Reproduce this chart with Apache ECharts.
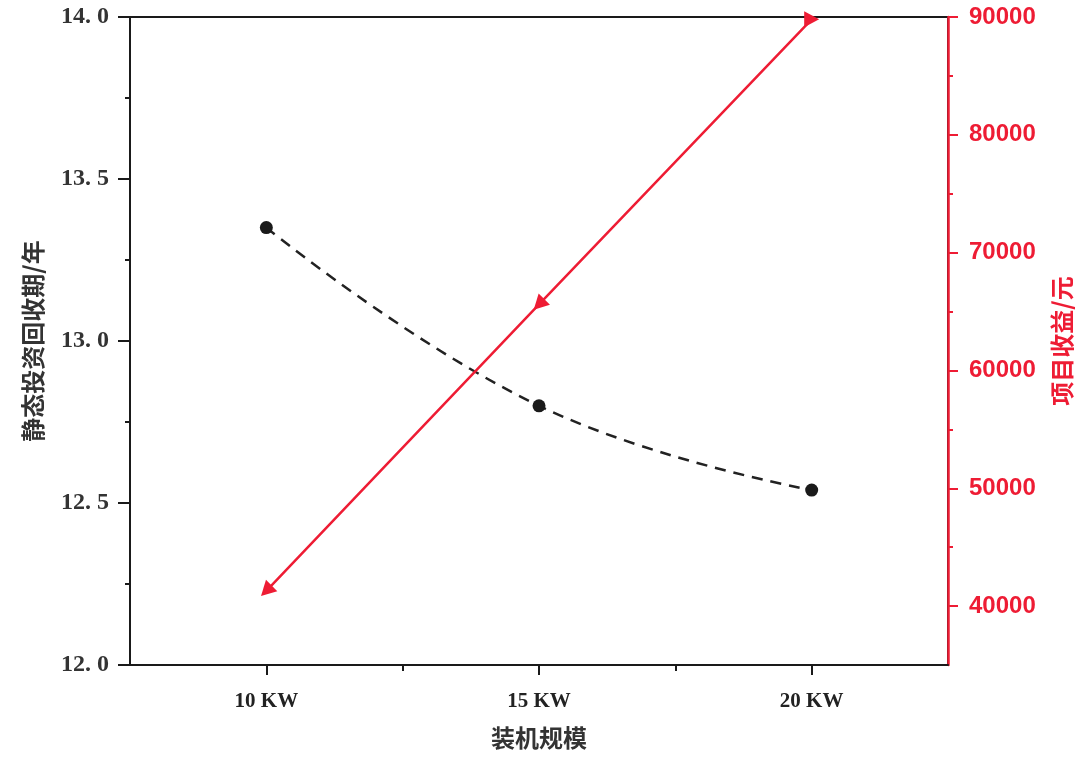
<!DOCTYPE html>
<html>
<head>
<meta charset="utf-8">
<script src="https://cdn.jsdelivr.net/npm/echarts@6/dist/echarts.min.js"></script>
<style>html,body{margin:0;padding:0;background:#fff;}#c{width:1080px;height:761px;}</style>
</head>
<body>
<div id="c"></div>
<script>
const capacities = [10, 15, 20];
const capacityLabels = ['10 KW', '15 KW', '20 KW'];
const paybackYears = [13.35, 12.80, 12.54];
const projectIncome = [41300, 65600, 89800];
const incomeMarkerRotate = [135, 135, -90];
const leftTicks = [12.0, 12.5, 13.0, 13.5, 14.0];
const rightMajorTicks = [40000, 50000, 60000, 70000, 80000, 90000];
const rightMinorTicks = [45000, 55000, 65000, 75000, 85000];
const xMinorTicks = [12.5, 17.5];

const RED = '#ee1c34';
const BLACK = '#1a1a1a';
const SERIF = '"Liberation Serif", "DejaVu Serif", "Noto Sans CJK SC", serif';
const CJK = '"Noto Sans CJK SC", sans-serif';

const chart = echarts.init(document.getElementById('c'));
chart.setOption({
  animation: false,
  backgroundColor: '#fff',
  grid: { left: 130, right: 132, top: 17, bottom: 96, show: true, borderColor: BLACK, borderWidth: 2, backgroundColor: 'transparent', outerBoundsMode: 'none', containLabel: false },
  xAxis: [
    {
      type: 'value', min: 7.5, max: 22.5, position: 'bottom',
      name: '装机规模', nameLocation: 'middle', nameGap: 61,
      nameTextStyle: { fontFamily: CJK, fontWeight: 'bold', fontSize: 24, color: '#333' },
      axisLine: { show: true, lineStyle: { color: BLACK, width: 2 } },
      axisTick: { show: true, inside: false, length: 10, lineStyle: { color: BLACK, width: 2 }, customValues: capacities },
      axisLabel: {
        show: true, margin: 26, customValues: capacities,
        formatter: v => capacityLabels[capacities.indexOf(v)] || '',
        fontFamily: SERIF, fontWeight: 'bold', fontSize: 21, color: '#222'
      },
      splitLine: { show: false }
    },
    {
      type: 'value', min: 7.5, max: 22.5, position: 'bottom',
      axisLine: { show: false },
      axisTick: { show: true, length: 6, lineStyle: { color: BLACK, width: 2 }, customValues: xMinorTicks },
      axisLabel: { show: false },
      splitLine: { show: false }
    }
  ],
  yAxis: [
    {
      type: 'value', min: 12, max: 14, interval: 0.5, position: 'left',
      name: '静态投资回收期/年', nameLocation: 'middle', nameGap: 85, nameRotate: 90,
      nameTextStyle: { fontFamily: CJK, fontWeight: 'bold', fontSize: 24, color: '#333' },
      axisLine: { show: true, lineStyle: { color: BLACK, width: 2 } },
      axisTick: { show: true, length: 12, lineStyle: { color: BLACK, width: 2 }, customValues: leftTicks },
      minorTick: { show: true, splitNumber: 2, length: 5, lineStyle: { color: BLACK, width: 2 } },
      axisLabel: {
        margin: 21, formatter: v => v.toFixed(1).replace('.', '. '),
        fontFamily: SERIF, fontWeight: 'bold', fontSize: 24, color: '#333'
      },
      splitLine: { show: false }, minorSplitLine: { show: false }
    },
    {
      type: 'value', min: 35000, max: 90000, position: 'right',
      name: '项目收益/元', nameLocation: 'middle', nameGap: 102, nameRotate: 90,
      nameTextStyle: { fontFamily: CJK, fontWeight: 'bold', fontSize: 24, color: RED },
      axisLine: { show: true, lineStyle: { color: RED, width: 2.5 } },
      axisTick: { show: true, length: 10, lineStyle: { color: RED, width: 2 }, customValues: rightMajorTicks },
      axisLabel: {
        margin: 21, customValues: rightMajorTicks, formatter: v => String(v),
        fontFamily: '"Liberation Sans", Arial, sans-serif', fontWeight: 'bold', fontSize: 24, color: RED
      },
      splitLine: { show: false }
    },
    {
      type: 'value', min: 35000, max: 90000, position: 'right',
      axisLine: { show: false },
      axisTick: { show: true, length: 5, lineStyle: { color: RED, width: 2 }, customValues: rightMinorTicks },
      axisLabel: { show: false },
      splitLine: { show: false }
    }
  ],
  series: [
    {
      type: 'line', xAxisIndex: 0, yAxisIndex: 0,
      data: capacities.map((c, i) => [c, paybackYears[i]]),
      smooth: 0.45,
      symbol: 'circle', symbolSize: 13,
      itemStyle: { color: BLACK },
      lineStyle: { color: '#222', width: 2.5, type: [11, 8] },
      z: 3
    },
    {
      type: 'line', xAxisIndex: 0, yAxisIndex: 1,
      data: capacities.map((c, i) => ({ value: [c, projectIncome[i]], symbolRotate: incomeMarkerRotate[i] })),
      symbol: 'triangle', symbolSize: [16, 15],
      itemStyle: { color: RED },
      lineStyle: { color: RED, width: 2.5 },
      z: 4
    }
  ]
});
</script>
</body>
</html>
